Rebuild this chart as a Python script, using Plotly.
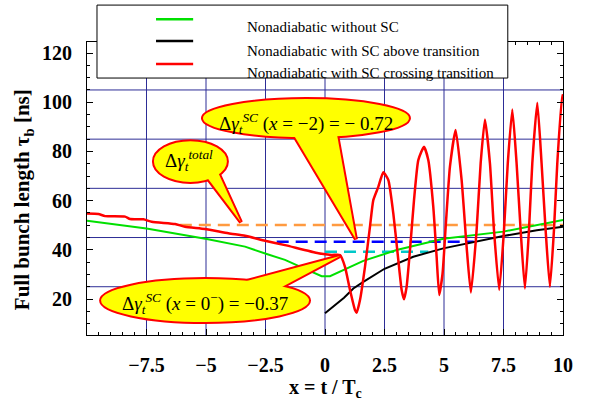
import plotly.graph_objects as go

# ---------------- data ----------------
green_x = [-10, -7.5, -4.97, -3.36, -2.45, -1.68, -1.19, -0.14, 0.21, 1.61, 3.01, 4.41, 4.97, 7.49, 10]
green_y = [51.8, 48.7, 44.4, 41.3, 38.3, 35.9, 33.8, 29.3, 29.3, 35.5, 39.9, 43.3, 44.5, 47.4, 52.1]

black_x = [0, 0.4, 0.8, 1.19, 1.61, 2.5, 3.71, 4.97, 6.37, 7.49, 8.9, 10]
black_y = [14.2, 17.5, 20.5, 24.3, 27.0, 32.3, 37.2, 40.6, 43.3, 45.6, 48.0, 49.4]

red_x = [-10, -9.52, -9.24, -8.4, -8.19, -7.63, -7.28, -6.3, -5.88, -5.04, -4.06, -3.36,
         -2.52, -1.68, -0.28, 0.28, 0.63, 0.84, 1.05, 1.26, 1.33, 1.47, 1.68, 1.89,
         2.03, 2.24, 2.45, 2.66, 2.87, 3.08, 3.22, 3.32, 3.43, 3.57, 3.74, 3.92,
         4.16, 4.34, 4.55, 4.69, 4.80, 4.94, 5.08, 5.25, 5.49, 5.74, 5.95, 6.13,
         6.37, 6.54, 6.72, 6.93, 7.10, 7.32, 7.52, 7.68, 7.87, 8.05, 8.22, 8.40,
         8.57, 8.71, 8.92, 9.10, 9.27, 9.45, 9.62, 9.76, 9.97, 10]
red_y = [54.8, 54.6, 53.7, 53.5, 52.5, 52.4, 51.4, 50.5, 49.4, 48.5, 46.7, 45.7,
         43.7, 41.9, 38.6, 37.9, 37.9, 33.1, 23.7, 15.5, 14.4, 19.6, 33.1, 49.4,
         60.2, 65.6, 71.5, 68.4, 54.8, 35.9, 23.7, 19.9, 25.0, 39.9, 60.2, 76.5,
         81.9, 76.5, 57.5, 37.2, 21.6, 30.4, 50.8, 73.8, 88.7, 68.4, 41.3, 22.6,
         48.0, 75.2, 93.0, 75.2, 48.0, 23.7, 48.0, 75.2, 97.1, 75.2, 48.0, 24.3,
         48.0, 75.2, 99.8, 75.2, 48.0, 25.0, 48.0, 75.2, 102.9, 102.5]

orange_x = [-6.1, 10]
orange_y = [50.1, 50.1]
blue_x = [-2.03, 6.25]
blue_y = [43.3, 43.3]
cyan_x = [0, 4.34]
cyan_y = [39.2, 39.2]

x_tickvals = [-7.5, -5, -2.5, 0, 2.5, 5, 7.5, 10]
x_ticktext = ["\u22127.5", "\u22125", "\u22122.5", "0", "2.5", "5", "7.5", "10"]
y_tickvals = [20, 40, 60, 80, 100, 120]
x_grid = [-7.5, -5, -2.5, 0, 2.5, 5, 7.5]
y_grid = [25, 45, 65, 85, 105]

legend_names = ["Nonadiabatic without SC",
                "Nonadiabatic with SC above transition",
                "Nonadiabatic with SC crossing transition"]
legend_colors = ["#00e000", "#000000", "#ff0000"]

FONT = "'Liberation Serif', 'Times New Roman', Times, serif"
GRID = "rgb(45,45,150)"

fig = go.Figure()

fig.add_trace(go.Scatter(x=orange_x, y=orange_y, mode="lines",
                         line=dict(color="#ff9a40", width=2.5, dash="12px,7px")))
fig.add_trace(go.Scatter(x=blue_x, y=blue_y, mode="lines",
                         line=dict(color="#0000ff", width=2.5, dash="12px,7px")))
fig.add_trace(go.Scatter(x=cyan_x, y=cyan_y, mode="lines",
                         line=dict(color="#00c8c8", width=2.5, dash="12px,7px")))
fig.add_trace(go.Scatter(x=green_x, y=green_y, mode="lines",
                         line=dict(color="#00e000", width=2)))
fig.add_trace(go.Scatter(x=black_x, y=black_y, mode="lines",
                         line=dict(color="#000000", width=2)))
fig.add_trace(go.Scatter(x=red_x, y=red_y, mode="lines",
                         line=dict(color="#ff0000", width=2.5, shape="spline", smoothing=0.5)))

shapes = []
# grid lines
for gx in x_grid:
    shapes.append(dict(type="line", xref="x", yref="paper", x0=gx, x1=gx, y0=0, y1=1,
                       line=dict(color=GRID, width=1), layer="below"))
for gy in y_grid:
    shapes.append(dict(type="line", xref="paper", yref="y", x0=0, x1=1, y0=gy, y1=gy,
                       line=dict(color=GRID, width=1), layer="below"))


def bubble(ell, tri):
    (ex0, ex1, ey0, ey1) = ell
    p = "M {} {} L {} {} L {} {} Z".format(*tri)
    return [
        dict(type="path", xref="x", yref="y", path=p, fillcolor="#ffff00",
             line=dict(color="#ff0000", width=4), layer="above"),
        dict(type="circle", xref="x", yref="y", x0=ex0, x1=ex1, y0=ey0, y1=ey1,
             fillcolor="#ffff00", line=dict(color="#ff0000", width=2), layer="above"),
        dict(type="path", xref="x", yref="y", path=p, fillcolor="#ffff00",
             line=dict(width=0), layer="above"),
    ]


shapes += bubble((-5.17, 3.57, 85.4, 101.7), (-1.34, 87.1, 0.50, 87.1, 1.30, 44.3))
shapes += bubble((-7.23, -4.08, 67.2, 84.6), (-4.94, 69.2, -4.50, 71.6, -3.53, 51.2))
shapes += bubble((-9.45, -0.63, 10.24, 28.5), (-3.45, 26.9, -1.89, 24.5, 0.63, 37.5))

# legend box
shapes.append(dict(type="rect", xref="paper", yref="paper", x0=0.021, x1=0.884,
                   y0=0.877, y1=1.126, fillcolor="white",
                   line=dict(color="black", width=1), layer="above"))
leg_line_y = [1.078, 1.003, 0.925]
leg_text_y = [1.051, 0.969, 0.894]
for c, ly in zip(legend_colors, leg_line_y):
    shapes.append(dict(type="line", xref="paper", yref="paper", x0=0.145, x1=0.223,
                       y0=ly, y1=ly, line=dict(color=c, width=2.5), layer="above"))

annotations = []
for name, ty in zip(legend_names, leg_text_y):
    annotations.append(dict(xref="paper", yref="paper", x=0.332, y=ty, text=name,
                            showarrow=False, xanchor="left", yanchor="middle",
                            font=dict(family=FONT, size=15, color="black")))

bub_font = dict(family=FONT, size=19, color="black")
annotations.append(dict(xref="x", yref="y", x=-0.8, y=91.5, showarrow=False,
                        xanchor="center", yanchor="middle",
                        text="\u0394<i>\u03b3</i><sub><i>t</i></sub><sup><i>SC</i></sup> (<i>x</i> = \u22122) = \u2212 0.72",
                        font=bub_font))
annotations.append(dict(xref="x", yref="y", x=-5.71, y=76.5, showarrow=False,
                        xanchor="center", yanchor="middle",
                        text="\u0394<i>\u03b3</i><sub><i>t</i></sub><sup><i>total</i></sup>",
                        font=bub_font))
annotations.append(dict(xref="x", yref="y", x=-5.05, y=18.3, showarrow=False,
                        xanchor="center", yanchor="middle",
                        text="\u0394<i>\u03b3</i><sub><i>t</i></sub><sup><i>SC</i></sup> (<i>x</i> = 0<sup>\u2212</sup>) = \u22120.37",
                        font=bub_font))

# axis titles
annotations.append(dict(xref="paper", yref="paper", x=-0.134, y=0.461, showarrow=False,
                        xanchor="center", yanchor="middle",
                        textangle=-90, text="<b>Full bunch length \u03c4<sub>b</sub> [ns]</b>",
                        font=dict(family=FONT, size=21, color="black")))
annotations.append(dict(xref="paper", yref="paper", x=0.502, y=-0.182, showarrow=False,
                        xanchor="center", yanchor="middle",
                        text="<b>x = t / T<sub>c</sub></b>",
                        font=dict(family=FONT, size=20, color="black")))

fig.update_layout(
    width=589, height=400,
    margin=dict(l=87, r=26, t=42, b=65, autoexpand=False),
    plot_bgcolor="white", paper_bgcolor="white",
    showlegend=False,
    shapes=shapes, annotations=annotations,
    font=dict(family=FONT, color="black"),
)
fig.update_xaxes(range=[-10, 10], tickmode="array", tickvals=x_tickvals, ticktext=x_ticktext,
                 automargin=False,
                 showgrid=False, zeroline=False, showline=True, linecolor="black", linewidth=1,
                 mirror="ticks", ticks="inside", ticklen=6, tickcolor="black",
                 ticklabelstandoff=12,
                 tickfont=dict(family=FONT, size=20, color="black", weight="bold"),
                 minor=dict(ticks="inside", dtick=0.5, tick0=0, ticklen=3, tickcolor="black"))
fig.update_yaxes(range=[5.37, 124.5], tickmode="array", tickvals=y_tickvals,
                 automargin=False,
                 showgrid=False, zeroline=False, showline=True, linecolor="black", linewidth=1,
                 mirror="ticks", ticks="inside", ticklen=6, tickcolor="black",
                 ticklabelstandoff=10,
                 tickfont=dict(family=FONT, size=20, color="black", weight="bold"),
                 minor=dict(ticks="inside", dtick=5, tick0=0, ticklen=3, tickcolor="black"))

fig.write_html("out.html", config={"displayModeBar": False},
               post_script="document.body.style.margin='0px';")
